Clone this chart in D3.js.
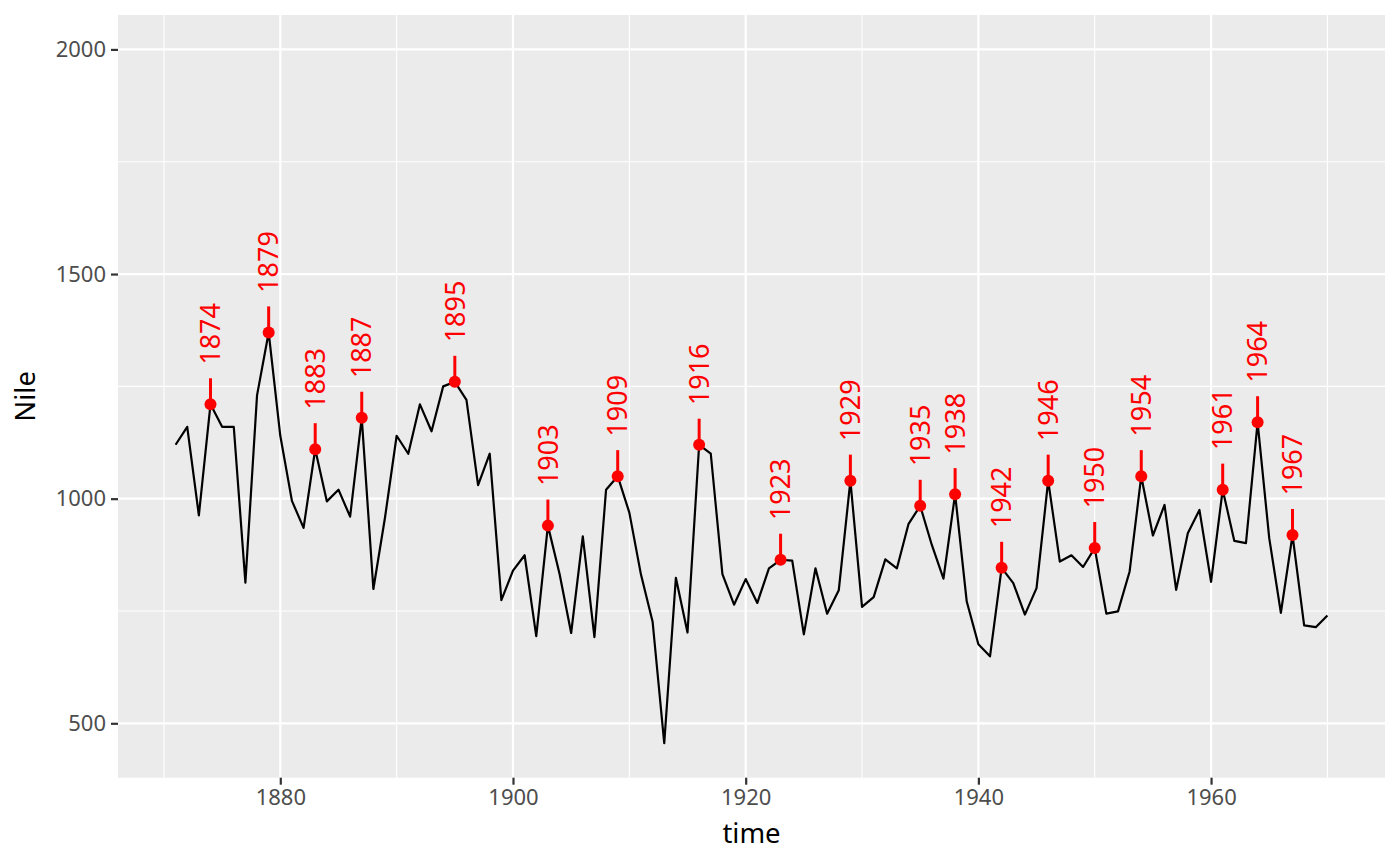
<!DOCTYPE html>
<html>
<head>
<meta charset="utf-8">
<script src="https://cdn.jsdelivr.net/npm/d3@7"></script>
<style>
  body { margin: 0; background: #fff; }
  text { font-family: "Noto Sans", "Open Sans", sans-serif; }
</style>
</head>
<body>
<svg id="canvas" width="1400" height="866"></svg>
<script>
const width = 1400;
const height = 866;

// Nile flow, 1871-1970
const startYear = 1871;
const nile = [1120, 1160, 963, 1210, 1160, 1160, 813, 1230, 1370, 1140,
  995, 935, 1110, 994, 1020, 960, 1180, 799, 958, 1140,
  1100, 1210, 1150, 1250, 1260, 1220, 1030, 1100, 774, 840,
  874, 694, 940, 833, 701, 916, 692, 1020, 1050, 969,
  831, 726, 456, 824, 702, 1120, 1100, 832, 764, 821,
  768, 845, 864, 862, 698, 845, 744, 796, 1040, 759,
  781, 865, 845, 944, 984, 897, 822, 1010, 771, 676,
  649, 846, 812, 742, 801, 1040, 860, 874, 848, 890,
  744, 749, 838, 1050, 918, 986, 797, 923, 975, 815,
  1020, 906, 901, 1170, 912, 746, 919, 718, 714, 740];

// years marked as peaks
const peakYears = [1874, 1879, 1883, 1887, 1895, 1903, 1909, 1916, 1923, 1929,
  1935, 1938, 1942, 1946, 1950, 1954, 1961, 1964, 1967];

const xTicks = [1880, 1900, 1920, 1940, 1960];
const xMinor = [1870, 1890, 1910, 1930, 1950, 1970];
const yTicks = [500, 1000, 1500, 2000];
const yMinor = [750, 1250, 1750];

const series = nile.map((v, i) => ({year: startYear + i, value: v}));
const peaks = series.filter(d => peakYears.includes(d.year));

const panel = {left: 118, right: 1385, top: 15, bottom: 777.7};

const x = d3.scaleLinear()
    .domain([1866.05, 1974.95])
    .range([panel.left, panel.right]);

const y = d3.scaleLinear()
    .domain([378.9, 2076.6])
    .range([panel.bottom, panel.top]);

const svg = d3.select("#canvas");

// panel background
svg.append("rect")
    .attr("x", panel.left)
    .attr("y", panel.top)
    .attr("width", panel.right - panel.left)
    .attr("height", panel.bottom - panel.top)
    .attr("fill", "#ebebeb");

// grid lines
const grid = svg.append("g");
grid.selectAll(".vminor").data(xMinor).enter().append("line")
    .attr("x1", d => x(d)).attr("x2", d => x(d))
    .attr("y1", panel.top).attr("y2", panel.bottom)
    .attr("stroke", "#fff").attr("stroke-width", 1.1);
grid.selectAll(".hminor").data(yMinor).enter().append("line")
    .attr("x1", panel.left).attr("x2", panel.right)
    .attr("y1", d => y(d)).attr("y2", d => y(d))
    .attr("stroke", "#fff").attr("stroke-width", 1.1);
grid.selectAll(".vmajor").data(xTicks).enter().append("line")
    .attr("x1", d => x(d)).attr("x2", d => x(d))
    .attr("y1", panel.top).attr("y2", panel.bottom)
    .attr("stroke", "#fff").attr("stroke-width", 2.2);
grid.selectAll(".hmajor").data(yTicks).enter().append("line")
    .attr("x1", panel.left).attr("x2", panel.right)
    .attr("y1", d => y(d)).attr("y2", d => y(d))
    .attr("stroke", "#fff").attr("stroke-width", 2.2);

// axes
const xAxis = svg.append("g")
    .attr("transform", `translate(0,${panel.bottom})`)
    .call(d3.axisBottom(x).tickValues(xTicks).tickSize(7).tickPadding(5).tickFormat(d3.format("d")));
const yAxis = svg.append("g")
    .attr("transform", `translate(${panel.left},0)`)
    .call(d3.axisLeft(y).tickValues(yTicks).tickSize(7).tickPadding(5).tickFormat(d3.format("d")));

[xAxis, yAxis].forEach(g => {
    g.select(".domain").remove();
    g.selectAll(".tick line").attr("stroke", "#333").attr("stroke-width", 2.2);
    g.selectAll(".tick text")
        .attr("fill", "#4d4d4d")
        .style("font-size", "22px");
});

// series line
const line = d3.line()
    .x(d => x(d.year))
    .y(d => y(d.value));

svg.append("path")
    .datum(series)
    .attr("fill", "none")
    .attr("stroke", "#000")
    .attr("stroke-width", 2.2)
    .attr("stroke-linejoin", "round")
    .attr("d", line);

// peak markers
svg.selectAll(".seg").data(peaks).enter().append("line")
    .attr("x1", d => x(d.year)).attr("x2", d => x(d.year))
    .attr("y1", d => y(d.value)).attr("y2", d => y(d.value + 58))
    .attr("stroke", "red").attr("stroke-width", 3);

svg.selectAll(".pt").data(peaks).enter().append("circle")
    .attr("cx", d => x(d.year))
    .attr("cy", d => y(d.value))
    .attr("r", 6)
    .attr("fill", "red");

svg.selectAll(".lab").data(peaks).enter().append("text")
    .attr("transform", d => `translate(${x(d.year)},${y(d.value + 88)}) rotate(-90)`)
    .attr("dy", "0.36em")
    .attr("fill", "red")
    .style("font-size", "27px")
    .text(d => d.year);

// axis titles
svg.append("text")
    .attr("x", (panel.left + panel.right) / 2)
    .attr("y", 843)
    .attr("text-anchor", "middle")
    .style("font-size", "27.5px")
    .text("time");

svg.append("text")
    .attr("transform", `translate(35,${(panel.top + panel.bottom) / 2}) rotate(-90)`)
    .attr("text-anchor", "middle")
    .style("font-size", "27.5px")
    .text("Nile");
</script>
</body>
</html>
